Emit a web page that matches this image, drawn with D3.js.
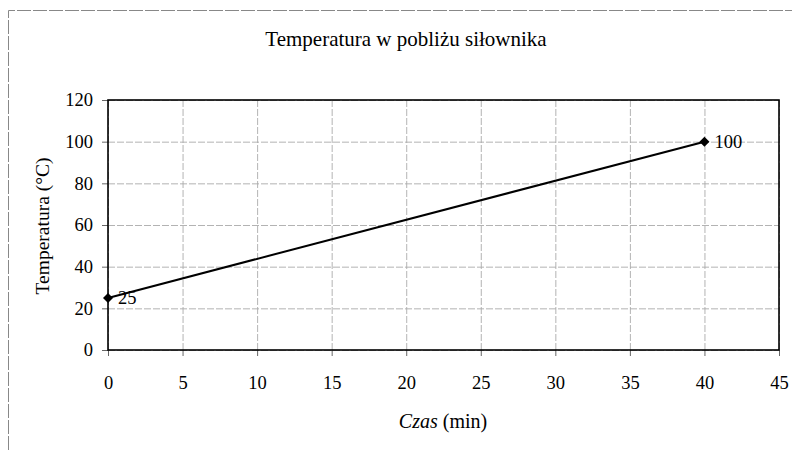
<html>
  <head>
    <script src="https://d3js.org/d3.v7.min.js"></script>
  </head>
  <body style="margin:0;background:#fff">
    <svg id="chart" width="792" height="450"></svg>
    <script>
      // data
      const times = [0, 40];
      const temps = [25, 100];
      const xTicks = [0, 5, 10, 15, 20, 25, 30, 35, 40, 45];
      const yTicks = [0, 20, 40, 60, 80, 100, 120];

      const svg = d3.select('svg#chart');
      const margins = {top: 100, right: 13, bottom: 100, left: 108};
      const chartWidth = 792 - margins.left - margins.right;
      const chartHeight = 450 - margins.top - margins.bottom;
      const font = '"Liberation Serif", "DejaVu Serif", serif';

      // outer frame (cropped at right and bottom)
      svg.append('path')
        .attr('d', 'M8.5,450 L8.5,10.5 L792,10.5')
        .attr('fill', 'none')
        .attr('stroke', '#888')
        .attr('stroke-width', 1)
        .attr('stroke-dasharray', '14,2');

      const xScale = d3.scaleLinear().domain([0, 45]).range([0, chartWidth]);
      const yScale = d3.scaleLinear().domain([0, 120]).range([chartHeight, 0]);

      let chartArea = svg.append('g')
        .attr('transform', `translate(${margins.left}, ${margins.top})`);

      // gridlines
      let leftGridlines = d3.axisLeft(yScale).tickValues(yTicks).tickSize(-chartWidth).tickFormat('');
      chartArea.append('g').attr('class', 'gridlines').call(leftGridlines);
      let bottomGridlines = d3.axisBottom(xScale).tickValues(xTicks).tickSize(-chartHeight).tickFormat('');
      chartArea.append('g').attr('class', 'gridlines')
        .attr('transform', `translate(0, ${chartHeight})`)
        .call(bottomGridlines);

      // axes
      let leftAxis = d3.axisLeft(yScale).tickValues(yTicks).tickSize(6).tickPadding(9);
      chartArea.append('g').attr('class', 'axis').call(leftAxis);
      let bottomAxis = d3.axisBottom(xScale).tickValues(xTicks).tickSize(6).tickPadding(20);
      chartArea.append('g').attr('class', 'axis')
        .attr('transform', `translate(0, ${chartHeight})`)
        .call(bottomAxis);

      // plot frame
      chartArea.append('rect')
        .attr('x', 0).attr('y', 0)
        .attr('width', chartWidth).attr('height', chartHeight)
        .attr('fill', 'none').attr('stroke', '#000').attr('stroke-width', 1.6);

      // series line
      const points = times.map((t, i) => [t, temps[i]]);
      chartArea.append('path')
        .datum(points)
        .attr('fill', 'none')
        .attr('stroke', '#000')
        .attr('stroke-width', 2)
        .attr('d', d3.line().x(d => xScale(d[0])).y(d => yScale(d[1])));

      // diamond markers
      chartArea.selectAll('.marker').data(points).join('path')
        .attr('class', 'marker')
        .attr('transform', d => `translate(${xScale(d[0])}, ${yScale(d[1])})`)
        .attr('d', 'M0,-5 L5,0 L0,5 L-5,0 Z')
        .attr('fill', '#000');

      // value labels
      chartArea.selectAll('.vlabel').data(points).join('text')
        .attr('class', 'vlabel')
        .attr('x', d => xScale(d[0]) + 10)
        .attr('y', d => yScale(d[1]) + 6)
        .style('font-family', font)
        .style('font-size', '18.5px')
        .text(d => d[1]);

      // titles
      svg.append('text')
        .attr('x', 406).attr('y', 46)
        .attr('text-anchor', 'middle')
        .style('font-family', font)
        .style('font-size', '21px')
        .text('Temperatura w pobliżu siłownika');

      svg.append('text')
        .attr('transform', 'translate(49, 226) rotate(-90)')
        .attr('text-anchor', 'middle')
        .style('font-family', font)
        .style('font-size', '19.5px')
        .text('Temperatura (°C)');

      let xTitle = svg.append('text')
        .attr('x', 443).attr('y', 428)
        .attr('text-anchor', 'middle')
        .style('font-family', font)
        .style('font-size', '20px');
      xTitle.append('tspan').style('font-style', 'italic').text('Czas');
      xTitle.append('tspan').text(' (min)');
    </script>
  </body>

  <style>
    .gridlines line {
      stroke: #aaa;
      stroke-width: 0.9;
      stroke-dasharray: 7, 2;
    }
    .gridlines .domain {
      stroke: none;
    }
    .axis .domain {
      stroke: none;
    }
    .axis line {
      stroke: #666;
    }
    .axis text {
      font-family: "Liberation Serif", "DejaVu Serif", serif;
      font-size: 18.5px;
      fill: #000;
    }
  </style>
</html>
